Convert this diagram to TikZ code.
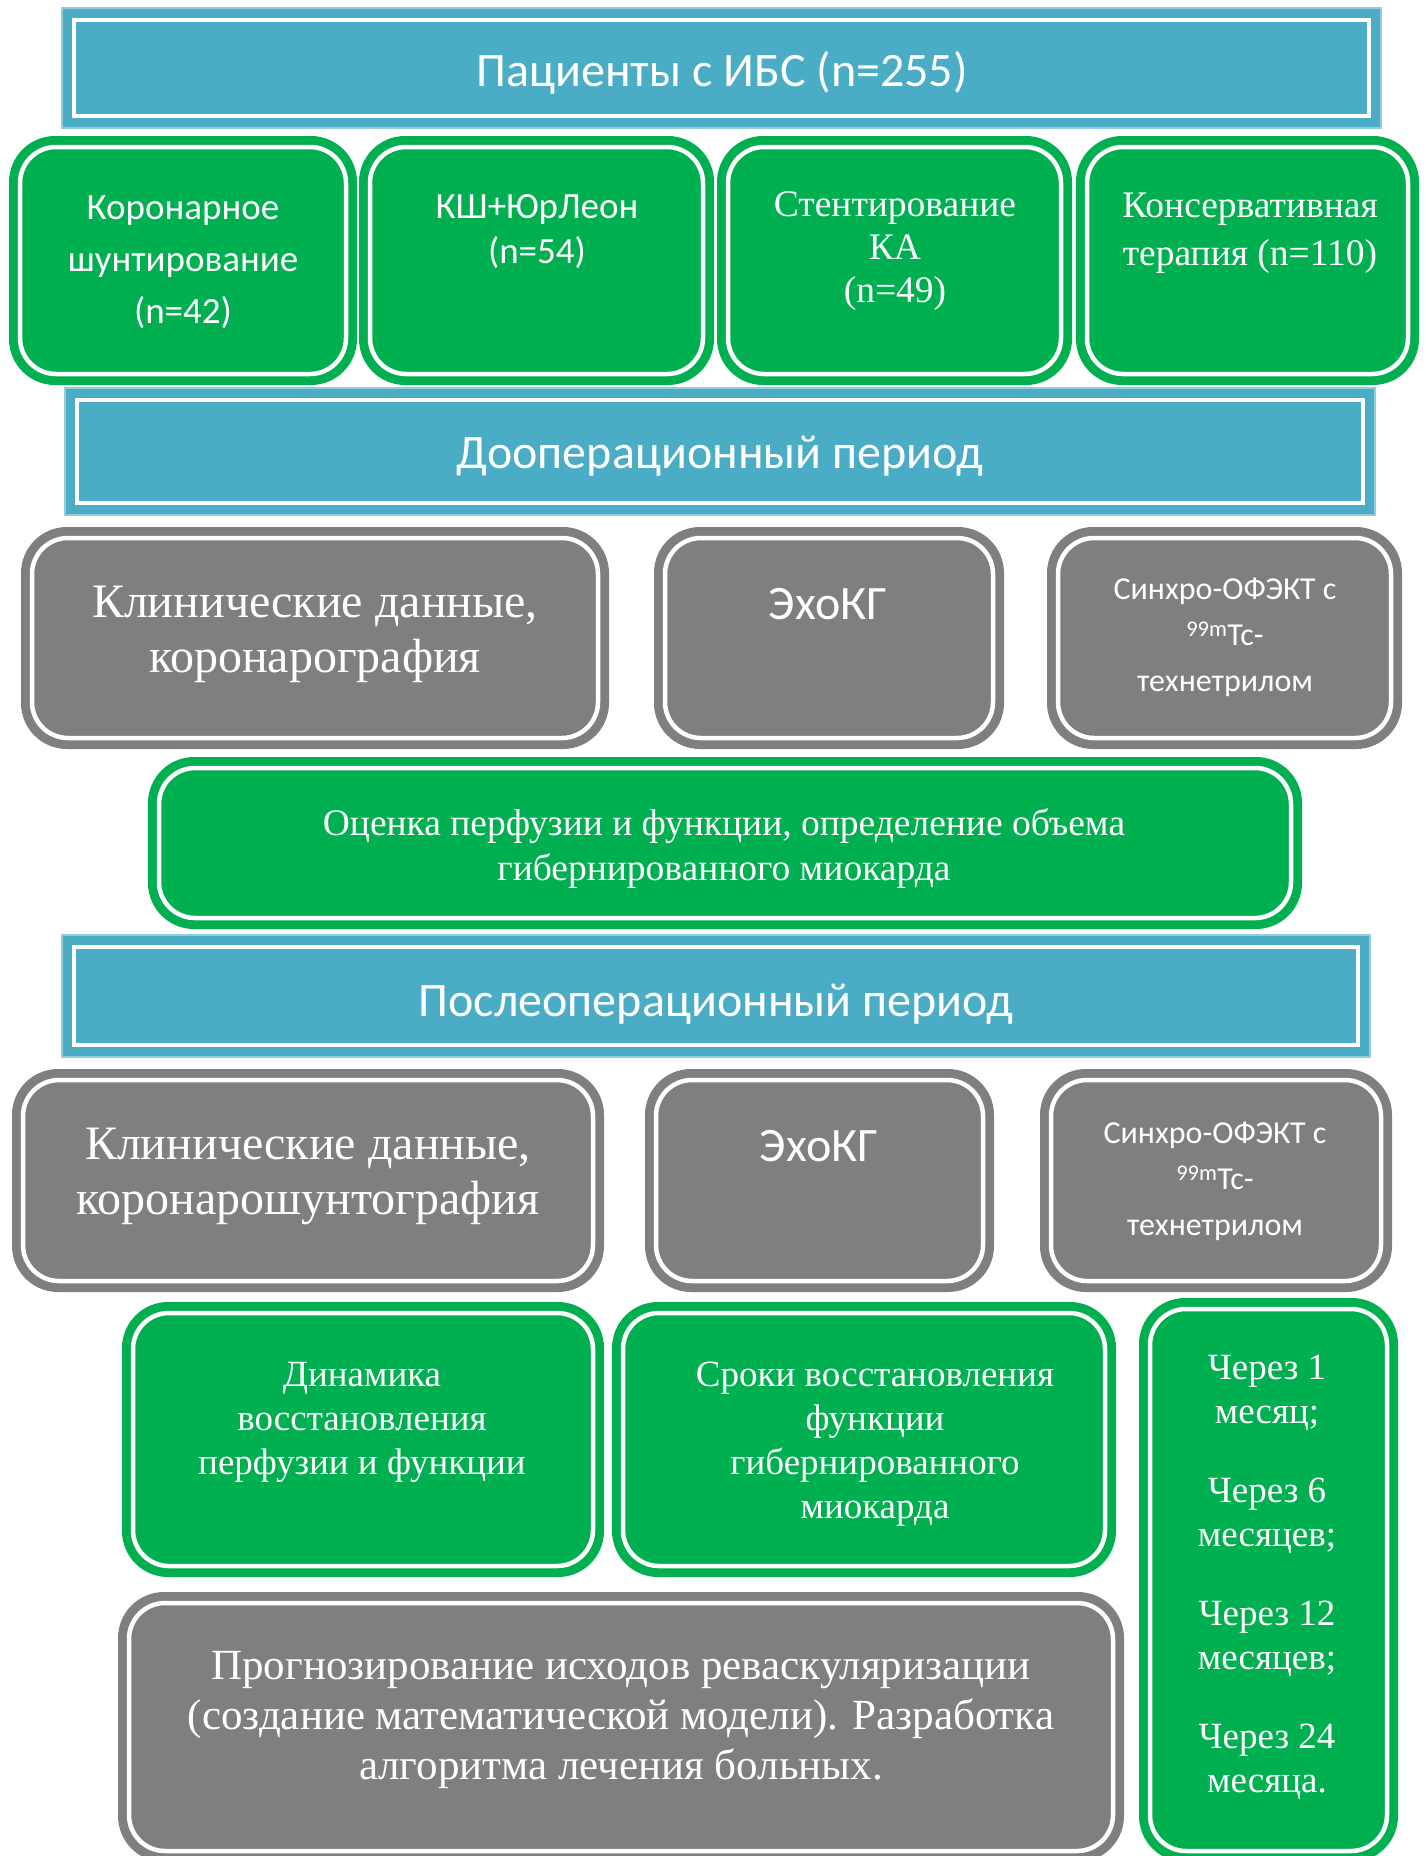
\documentclass[tikz,border=0pt]{standalone}
\usepackage{fontspec}
\setmainfont{Liberation Serif}
\newfontfamily\calfont{Carlito}
\definecolor{bxblue}{HTML}{4BACC6}
\definecolor{bxbluelt}{HTML}{92CDDC}
\definecolor{bxgreen}{HTML}{00B050}
\definecolor{bxgrey}{HTML}{7F7F7F}
\tikzset{
 panel/.style={inner sep=0pt, outer sep=0pt, rectangle},
 bluebox/.style={panel, fill=bxblue, draw=bxbluelt, line width=1.5pt},
 greenbox/.style={panel, fill=bxgreen, rounded corners=46pt},
 greybox/.style={panel, fill=bxgrey, rounded corners=46pt},
 frameline/.style={draw=white, line width=4.5pt},
 txt/.style={text=white, align=center, inner sep=0pt},
}
\newcommand\mkbox[6]{\node[#1, minimum width=#5pt, minimum height=#6pt] (#2) at (#3,#4) {};}
\newcommand\inframe[3]{\draw[frameline,#2] ([shift={(#3pt,#3pt)}]#1.south west) rectangle ([shift={(-#3pt,-#3pt)}]#1.north east);}
\newcommand\sz[2]{\fontsize{#1}{#2}\selectfont}
\begin{document}
\begin{tikzpicture}[x=1pt,y=-1pt]
\useasboundingbox (0,0) rectangle (1426,1856);
\clip (0,0) rectangle (1426,1856);
% row: title
\mkbox{bluebox}{title}{721.5}{68}{1319}{120}
\inframe{title}{}{12}
% green row
\mkbox{greenbox}{ga}{183}{260.5}{348}{249}
\mkbox{greenbox}{gb}{536.5}{260.5}{355}{249}
\mkbox{greenbox}{gc}{894.5}{260.5}{355}{249}
\mkbox{greenbox}{gd}{1247.5}{260.5}{343}{249}
\foreach \n in {ga,gb,gc,gd}{\inframe{\n}{rounded corners=36pt}{11}}
% pre-op
\mkbox{bluebox}{preop}{720}{451.5}{1310}{127}
\inframe{preop}{}{12}
\mkbox{greybox}{pa}{315}{638}{588}{222}
\mkbox{greybox}{pb}{829}{638}{350}{222}
\mkbox{greybox}{pc}{1224.5}{638}{355}{222}
\foreach \n in {pa,pb,pc}{\inframe{\n}{rounded corners=36pt}{11}}
\mkbox{greenbox}{eval}{725}{843}{1154}{172}
\inframe{eval}{rounded corners=36pt}{11}
% post-op
\mkbox{bluebox}{postop}{716}{996}{1308}{122}
\inframe{postop}{}{12}
\mkbox{greybox}{qa}{308}{1180.5}{592}{223}
\mkbox{greybox}{qb}{819.5}{1180.5}{349}{223}
\mkbox{greybox}{qc}{1216}{1180.5}{352}{223}
\foreach \n in {qa,qb,qc}{\inframe{\n}{rounded corners=36pt}{11}}
\mkbox{greenbox}{dyn}{363}{1439.5}{482}{275}
\mkbox{greenbox}{term}{864}{1439.5}{504}{275}
\mkbox{greenbox}{time}{1268.5}{1580}{259}{564}
\foreach \n in {dyn,term,time}{\inframe{\n}{rounded corners=36pt}{11}}
\mkbox{greybox}{prog}{621}{1727}{1006}{270}
\inframe{prog}{rounded corners=36pt}{11}
% texts
\node[txt, font=\calfont\sz{48}{52}] (t-title) at (722,73) {Пациенты с ИБС (n=255)};
\node[txt, font=\calfont\sz{37}{52}] (t-ga) at (183,262) {Коронарное\\шунтирование\\(n=42)};
\node[txt, font=\calfont\sz{37}{45}] (t-gb) at (537,232) {КШ+ЮрЛеон\\(n=54)};
\node[txt, font=\sz{37.5}{43}] (t-gc) at (895,251) {Стентирование\\КА\\(n=49)};
\node[txt, font=\sz{37.5}{48}] (t-gd) at (1250,233) {Консервативная\\терапия (n=110)};
\node[txt, font=\calfont\sz{48}{52}] (t-preop) at (720,456) {Дооперационный период};
\node[txt, font=\sz{48}{55}] (t-pa) at (315,634) {Клинические данные,\\коронарография};
\node[txt, font=\calfont\sz{48}{52}] (t-pb) at (828,604) {ЭхоКГ};
\node[txt, font=\calfont\sz{32}{46}] (t-pc) at (1225,637) {Синхро-ОФЭКТ с\\\textsuperscript{99m}Tc-\\технетрилом};
\node[txt, font=\sz{37.5}{45}] (t-eval) at (724,849) {Оценка перфузии и функции, определение объема\\гибернированного миокарда};
\node[txt, font=\calfont\sz{48}{52}] (t-postop) at (716,1004) {Послеоперационный период};
\node[txt, font=\sz{48}{55}] (t-qa) at (308,1176) {Клинические данные,\\коронарошунтография};
\node[txt, font=\calfont\sz{48}{52}] (t-qb) at (819,1146) {ЭхоКГ};
\node[txt, font=\calfont\sz{32}{46}] (t-qc) at (1215,1181) {Синхро-ОФЭКТ с\\\textsuperscript{99m}Tc-\\технетрилом};
\node[txt, font=\sz{37}{44}] (t-dyn) at (362,1422) {Динамика\\восстановления\\перфузии и функции};
\node[txt, font=\sz{37}{44}] (t-term) at (875,1444) {Сроки восстановления\\функции\\гибернированного\\миокарда};
\node[txt, font=\sz{37}{44}] (t-time) at (1267,1577) {Через 1\\месяц;\\[35pt]Через 6\\месяцев;\\[35pt]Через 12\\месяцев;\\[35pt]Через 24\\месяца.};
\node[txt, font=\sz{43}{50}] (t-prog) at (621,1720) {Прогнозирование исходов реваскуляризации\\(создание математической модели). Разработка\\алгоритма лечения больных.};
\end{tikzpicture}
\end{document}
